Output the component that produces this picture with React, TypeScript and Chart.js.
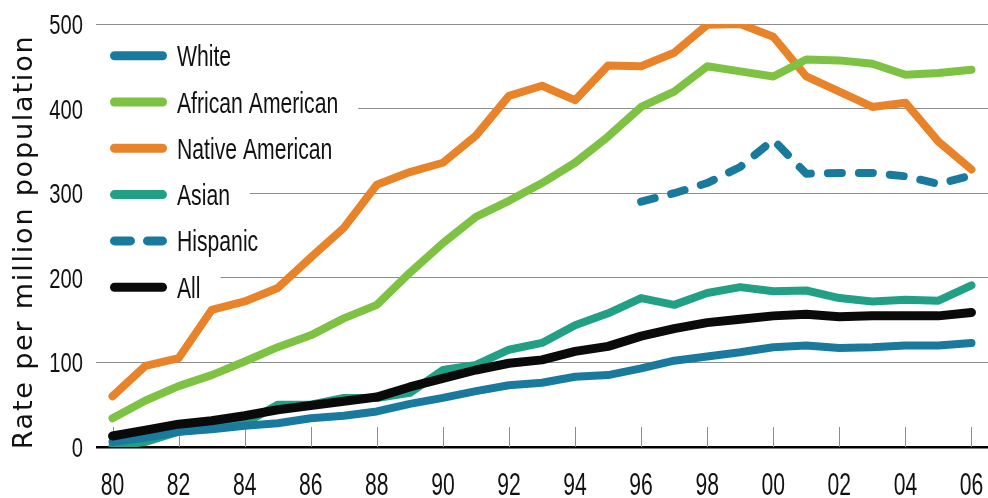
import React, { useEffect, useRef } from "react";
import { Chart, registerables } from "chart.js";

Chart.register(...registerables);

const years = [1980, 1981, 1982, 1983, 1984, 1985, 1986, 1987, 1988, 1989, 1990, 1991, 1992, 1993, 1994, 1995, 1996, 1997, 1998, 1999, 2000, 2001, 2002, 2003, 2004, 2005, 2006];

const white = [6, 11, 18, 21, 25, 28, 34, 37, 42, 51, 58, 66, 73, 76, 83, 85, 93, 102, 107, 112, 118, 120, 117, 118, 120, 120, 123];
const africanAmerican = [34, 55, 72, 85, 101, 118, 132, 152, 168, 206, 241, 272, 291, 312, 336, 367, 402, 420, 450, 444, 438, 458, 457, 453, 440, 442, 446];
const nativeAmerican = [60, 96, 105, 162, 172, 188, 224, 259, 310, 325, 336, 368, 415, 427, 410, 451, 450, 466, 499, 500, 485, 438, 420, 402, 407, 361, 328];
const asian = [1, 6, 18, 22, 28, 50, 50, 58, 58, 64, 91, 97, 115, 123, 144, 158, 176, 168, 182, 189, 184, 185, 176, 172, 174, 173, 191];
const hispanic = [null, null, null, null, null, null, null, null, null, null, null, null, null, null, null, null, 290, 300, 312, 331, 363, 323, 324, 324, 320, 311, 321];
const all = [13, 20, 27, 31, 37, 44, 49, 54, 59, 71, 81, 91, 99, 103, 113, 119, 131, 140, 147, 151, 155, 157, 154, 155, 155, 155, 159];

const yTicks = [0, 100, 200, 300, 400, 500];
const yTitle = "Rate per million population";

const series = [
  { label: "White", data: white, color: "#1a7a9e", dashed: false },
  { label: "African American", data: africanAmerican, color: "#7dc242", dashed: false },
  { label: "Native American", data: nativeAmerican, color: "#e8832a", dashed: false },
  { label: "Asian", data: asian, color: "#22a085", dashed: false },
  { label: "Hispanic", data: hispanic, color: "#1a7a9e", dashed: true },
  { label: "All", data: all, color: "#0a0a0a", dashed: false },
];

const FONT = "'Liberation Sans', Arial, sans-serif";

function narrowText(ctx: any, text: string, x: number, y: number, size: number, sx: number, align: "left" | "right" | "center") {
  ctx.save();
  ctx.font = `${size}px ${FONT}`;
  const w = ctx.measureText(text).width * sx;
  let left = x;
  if (align === "right") left = x - w;
  if (align === "center") left = x - w / 2;
  ctx.translate(left, y);
  ctx.scale(sx, 1);
  ctx.fillStyle = "#111111";
  ctx.textAlign = "left";
  ctx.textBaseline = "alphabetic";
  ctx.fillText(text, 0, 0);
  ctx.restore();
  return w;
}

const customPlugin = {
  id: "custom",
  beforeDatasetsDraw(chart: any) {
    const ctx = chart.ctx;
    const xs = chart.scales.x;
    const area = chart.chartArea;
    ctx.save();
    // tick marks above axis at labelled years
    ctx.strokeStyle = "#8c8c8c";
    ctx.lineWidth = 1;
    years.forEach((_, i) => {
      if (i % 2 !== 0) return;
      const x = Math.round(xs.getPixelForValue(i)) + 0.5;
      ctx.beginPath();
      ctx.moveTo(x, area.bottom - 20);
      ctx.lineTo(x, area.bottom);
      ctx.stroke();
    });
    // legend
    const startY = 55.7;
    const step = 46.3;
    const sx = 0.73;
    ctx.font = `29px ${FONT}`;
    series.forEach((s, i) => {
      const cy = startY + i * step;
      const w = ctx.measureText(s.label).width * sx;
      ctx.fillStyle = "#ffffff";
      ctx.fillRect(area.left, cy - 16, 177 + w + 20 - area.left, 32);
      ctx.strokeStyle = s.color;
      ctx.lineWidth = 9;
      ctx.lineCap = "round";
      ctx.setLineDash(s.dashed ? [16, 17] : []);
      ctx.beginPath();
      ctx.moveTo(114.5, cy);
      ctx.lineTo(162.5, cy);
      ctx.stroke();
      ctx.setLineDash([]);
      narrowText(ctx, s.label, 177, cy + 10.5, 29, sx, "left");
    });
    ctx.restore();
  },
  afterDraw(chart: any) {
    const ctx = chart.ctx;
    const xs = chart.scales.x;
    const ys = chart.scales.y;
    // x tick labels
    years.forEach((yr, i) => {
      if (i % 2 !== 0) return;
      narrowText(ctx, String(yr).slice(2), xs.getPixelForValue(i), 495, 32, 0.66, "center");
    });
    // y tick labels
    ys.ticks.forEach((t: any) => {
      narrowText(ctx, String(t.value), 83, ys.getPixelForValue(t.value) + 10, 28, 0.72, "right");
    });
    // y title
    ctx.save();
    ctx.translate(32, 242);
    ctx.rotate(-Math.PI / 2);
    ctx.font = "27px 'DejaVu Sans', sans-serif";
    (ctx as any).letterSpacing = "1.8px";
    ctx.fillStyle = "#111111";
    ctx.textAlign = "center";
    ctx.textBaseline = "alphabetic";
    ctx.fillText(yTitle, 0, 0);
    ctx.restore();
  },
};

export default function App() {
  const ref = useRef<HTMLCanvasElement | null>(null);
  useEffect(() => {
    if (!ref.current) return;
    const chart = new Chart(ref.current, {
      type: "line",
      data: {
        labels: years.map(String),
        datasets: series.map((s) => ({
          label: s.label,
          data: s.data as any,
          borderColor: s.color,
          backgroundColor: s.color,
          borderWidth: s.label === "All" ? 9 : 8,
          borderDash: s.dashed ? [14, 17] : [],
          borderCapStyle: "round" as const,
          borderJoinStyle: "round" as const,
          pointRadius: 0,
          tension: 0,
          spanGaps: false,
          fill: false,
          order: s.label === "All" ? 0 : 1,
        })),
      },
      options: {
        animation: false,
        responsive: true,
        maintainAspectRatio: false,
        layout: { padding: { top: 24, right: 0, left: 0, bottom: 0 } },
        plugins: { legend: { display: false }, tooltip: { enabled: false }, title: { display: false } },
        scales: {
          x: {
            type: "category",
            offset: true,
            grid: { display: false },
            border: { display: false },
            ticks: { display: false, autoSkip: false },
            afterFit: (s: any) => {
              s.height = 51;
              s.paddingLeft = 0;
              s.paddingRight = 0;
            },
          },
          y: {
            min: 0,
            max: 500,
            afterBuildTicks: (s: any) => {
              s.ticks = yTicks.map((v) => ({ value: v }));
            },
            grid: {
              drawTicks: false,
              color: (c: any) => (c.tick && c.tick.value === 0 ? "#000000" : "#8c8c8c"),
              lineWidth: (c: any) => (c.tick && c.tick.value === 0 ? 2.5 : 1),
            },
            border: { display: false },
            ticks: { display: false },
            afterFit: (s: any) => {
              s.width = 96;
              s.paddingTop = 0;
              s.paddingBottom = 0;
            },
          },
        },
      },
      plugins: [customPlugin],
    });
    return () => chart.destroy();
  }, []);
  return (
    <div style={{ position: "absolute", left: 0, top: 0, width: 988, height: 498, background: "#fff" }}>
      <canvas ref={ref} />
    </div>
  );
}
